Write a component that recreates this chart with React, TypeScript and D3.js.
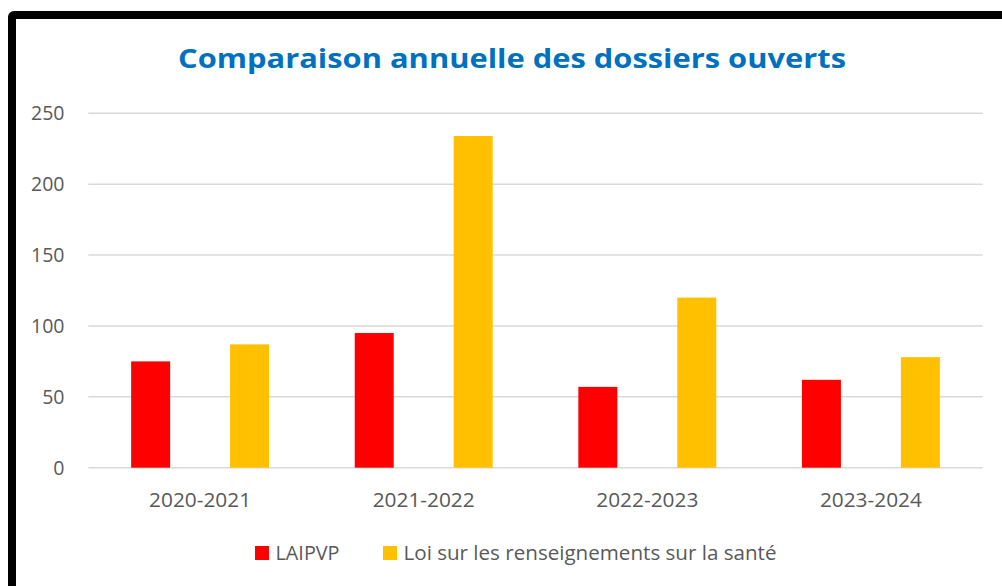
import { useEffect, useRef } from "react"
import * as d3 from "d3"

const categories = ["2020-2021", "2021-2022", "2022-2023", "2023-2024"]
const seriesNames = ["LAIPVP", "Loi sur les renseignements sur la santé"]
const laipvp = [75, 95, 57, 62]
const santeValues = [87, 234, 120, 78]
const yTicks = [0, 50, 100, 150, 200, 250]
const colors = ["#FF0000", "#FFC000"]

const W = 1002
const H = 586

const App = () => {
  const ref = useRef<SVGSVGElement>(null)

  useEffect(() => {
    const svg = d3.select(ref.current)
    svg.selectAll("*").remove()

    // outer frame, runs past the right and bottom edges
    svg
      .append("rect")
      .attr("x", 12)
      .attr("y", 15)
      .attr("width", W + 20)
      .attr("height", H + 20)
      .attr("rx", 2)
      .attr("fill", "#fff")
      .attr("stroke", "#000")
      .attr("stroke-width", 8)

    svg
      .append("text")
      .attr("x", 512)
      .attr("y", 68)
      .attr("text-anchor", "middle")
      .attr("font-family", "Open Sans")
      .attr("font-weight", "bold")
      .attr("font-size", 27)
      .attr("fill", "#0070C0")
      .attr("textLength", 668)
      .attr("lengthAdjust", "spacingAndGlyphs")
      .text("Comparaison annuelle des dossiers ouverts")

    const left = 88.3
    const right = 982.7
    const y = d3.scaleLinear().domain([0, 250]).range([467.7, 113.3])
    const x0 = d3.scaleBand().domain(categories).range([left, right])
    const x1 = d3
      .scaleBand()
      .domain(seriesNames)
      .range([0, x0.bandwidth()])
      .paddingInner(0.606)
      .paddingOuter(0.433)

    const g = svg.append("g")

    g.selectAll(".grid")
      .data(yTicks)
      .join("line")
      .attr("x1", left)
      .attr("x2", right)
      .attr("y1", (d) => y(d))
      .attr("y2", (d) => y(d))
      .attr("stroke", "#D9D9D9")
      .attr("stroke-width", 1.5)

    g.selectAll(".ytick")
      .data(yTicks)
      .join("text")
      .attr("x", 64.5)
      .attr("y", (d) => y(d) + 7)
      .attr("text-anchor", "end")
      .attr("font-family", "Open Sans")
      .attr("font-size", 19.5)
      .attr("fill", "#595959")
      .text((d) => d)

    const values = [laipvp, santeValues]
    const groups = g
      .selectAll(".cat")
      .data(categories)
      .join("g")
      .attr("transform", (d) => `translate(${x0(d)},0)`)

    groups
      .selectAll("rect")
      .data((_, i) => seriesNames.map((s, k) => ({ s, k, v: values[k][i] })))
      .join("rect")
      .attr("x", (d) => x1(d.s) as number)
      .attr("width", x1.bandwidth())
      .attr("y", (d) => y(d.v))
      .attr("height", (d) => y(0) - y(d.v))
      .attr("fill", (d) => colors[d.k])

    g.selectAll(".xlab")
      .data(categories)
      .join("text")
      .attr("x", (d) => (x0(d) as number) + x0.bandwidth() / 2)
      .attr("y", 506.5)
      .attr("text-anchor", "middle")
      .attr("font-family", "Open Sans")
      .attr("font-size", 20.5)
      .attr("fill", "#595959")
      .attr("textLength", 102)
      .attr("lengthAdjust", "spacingAndGlyphs")
      .text((d) => d)

    // legend
    const legendX = [255, 383]
    const legendLen = [64, 373]
    const leg = svg
      .append("g")
      .selectAll("g")
      .data(seriesNames)
      .join("g")
      .attr("transform", (_, i) => `translate(${legendX[i]},546)`)
    leg
      .append("rect")
      .attr("width", 14)
      .attr("height", 14)
      .attr("fill", (_, i) => colors[i])
    leg
      .append("text")
      .attr("x", 20.5)
      .attr("y", 13.5)
      .attr("font-family", "Open Sans")
      .attr("font-size", 19.5)
      .attr("fill", "#595959")
      .attr("textLength", (_, i) => legendLen[i])
      .attr("lengthAdjust", "spacingAndGlyphs")
      .text((d) => d)
  }, [])

  return (
    <svg
      ref={ref}
      width={W}
      height={H}
      style={{ position: "fixed", top: 0, left: 0, display: "block", background: "#fff" }}
    />
  )
}

export default App
